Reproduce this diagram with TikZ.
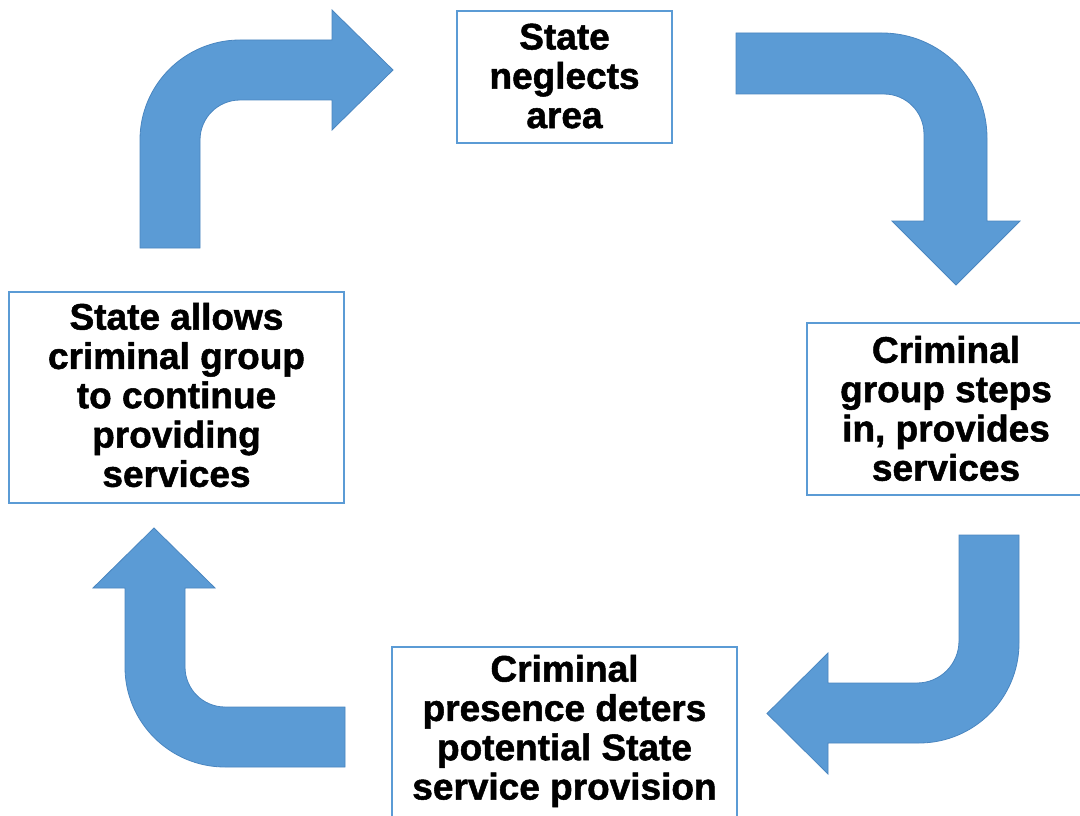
\documentclass[tikz,border=0pt]{standalone}
\usepackage{fontspec}
\setmainfont{Liberation Sans}[BoldFeatures={FakeBold=1.4}]
\definecolor{arrowblue}{HTML}{5B9BD5}
\definecolor{arrowedge}{HTML}{4A86C0}
\definecolor{boxedge}{HTML}{5B9BD5}
\tikzset{
  bentarrow/.style={fill=arrowblue, draw=arrowedge, line width=0.8pt, line join=miter},
  stepbox/.style={draw=boxedge, line width=1.4pt, fill=white, inner sep=0pt},
  steptext/.style={align=center, inner sep=0pt, font=\bfseries\fontsize{37pt}{39.3pt}\selectfont}
}
\begin{document}
\begin{tikzpicture}[x=1pt,y=-1pt]
\useasboundingbox (0,0) rectangle (1080,816);
\clip (0,0) rectangle (1080,816);
\fill[white] (0,0) rectangle (1080,816);

% boxes
\node[stepbox, minimum width=215pt, minimum height=132pt] (topbox) at (564.5,77) {};
\node[stepbox, minimum width=278pt, minimum height=172pt] (rightbox) at (946,409) {};
\node[stepbox, minimum width=345pt, minimum height=176pt] (bottombox) at (564.5,735) {};
\node[stepbox, minimum width=335pt, minimum height=211pt] (leftbox) at (176.5,397.5) {};

% texts
\node[steptext] (toptext) at (564.5,76) {State\\neglects\\area};
\node[steptext] (righttext) at (946,408.5) {Criminal\\group steps\\in, provides\\services};
\node[steptext] (bottomtext) at (564.5,731) {Criminal\\presence deters\\potential State\\service provision};
\node[steptext] (lefttext) at (176.5,395) {State allows\\criminal group\\to continue\\providing\\services};

% arrow 1: up then right (into top box)
\draw[bentarrow] (140,248) -- (140,140) .. controls (140,84.8) and (184.8,40) .. (240,40)
  -- (332,40) -- (332,10) -- (393,70) -- (332,130) -- (332,100) -- (240,100)
  .. controls (217.9,100) and (200,117.9) .. (200,140) -- (200,248) -- cycle;

% arrow 2: right then down (towards right box)
\draw[bentarrow] (736,33) -- (882,33) .. controls (940,33) and (987,80) .. (987,138)
  -- (987,221) -- (1020,221) -- (956,285) -- (892,221) -- (924,221) -- (924,134)
  .. controls (924,111.9) and (906.1,94) .. (884,94) -- (736,94) -- cycle;

% arrow 3: down then left (towards bottom box)
\draw[bentarrow] (1019,535) -- (1019,643) .. controls (1019,698.2) and (974.2,743) .. (919,743)
  -- (828,743) -- (828,774) -- (767,713.5) -- (828,653) -- (828,683) -- (917,683)
  .. controls (940.2,683) and (959,664.2) .. (959,641) -- (959,535) -- cycle;

% arrow 4: left then up (towards left box)
\draw[bentarrow] (345,767) -- (225,767) .. controls (169.8,767) and (125,722.2) .. (125,667)
  -- (125,588) -- (93,588) -- (154,528) -- (215,588) -- (185,588) -- (185,667)
  .. controls (185,689.1) and (202.9,707) .. (225,707) -- (345,707) -- cycle;
\end{tikzpicture}
\end{document}
